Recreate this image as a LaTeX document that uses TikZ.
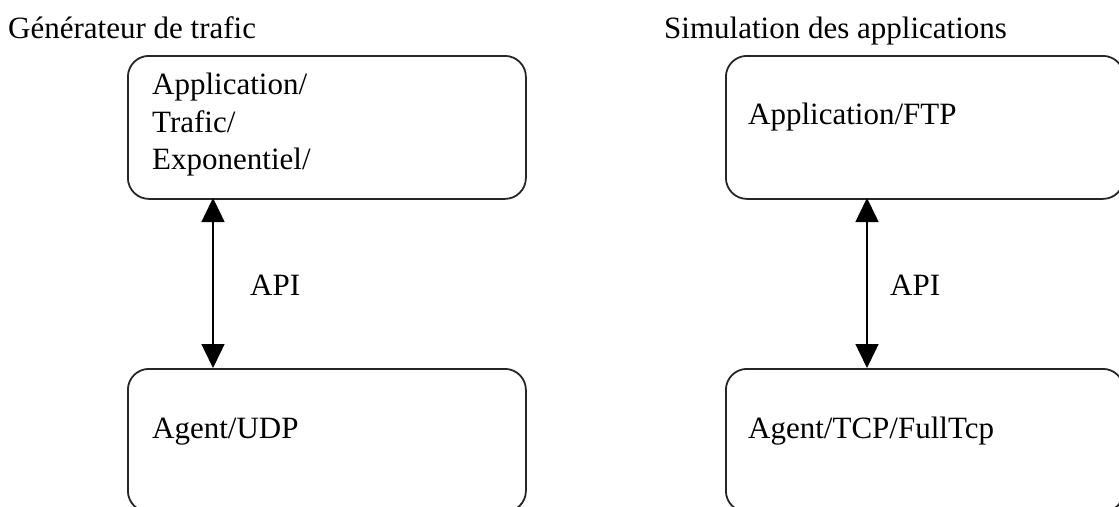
\documentclass[tikz,border=0pt]{standalone}
\usepackage{fontspec}
\setmainfont{Liberation Serif}
\usetikzlibrary{arrows.meta}
\begin{document}
\begin{tikzpicture}[x=1pt,y=-1pt,
  layerbox/.style={draw=black!85, line width=1.8pt, rounded corners=21pt,
    minimum width=398pt, minimum height=143pt, anchor=north west, inner sep=0pt},
  txt/.style={anchor=base west, inner sep=0pt,
    font=\fontsize{31}{37}\selectfont},
  apilink/.style={line width=1.5pt,
    {Triangle[width=23pt,length=24pt]}-{Triangle[width=23pt,length=24pt]}}]
  \useasboundingbox (0,0) rectangle (1119,506);
  \clip (0,0) rectangle (1119,506);

  % section titles
  \node[txt] (t1) at (8,38) {Générateur de trafic};
  \node[txt] (t2) at (664,38) {Simulation des applications};

  % traffic generator stack
  \node[layerbox] (gapp) at (127,55) {};
  \node[layerbox] (gagt) at (127,368) {};
  \node[txt] (g1) at (152,94) {Application/};
  \node[txt] (g2) at (152,132) {Trafic/};
  \node[txt] (g3) at (152,169) {Exponentiel/};
  \node[txt] (g4) at (152,438) {Agent/UDP};
  \coordinate (gtop) at (213,198);
  \coordinate (gbot) at (213,368);
  \draw[apilink] (gtop) -- (gbot);
  \node[txt] (gapi) at (250,295) {API};

  % application simulation stack
  \node[layerbox] (sapp) at (725,55) {};
  \node[layerbox] (sagt) at (725,368) {};
  \node[txt] (s1) at (748,124) {Application/FTP};
  \node[txt] (s2) at (748,438) {Agent/TCP/FullTcp};
  \coordinate (stop) at (867,198);
  \coordinate (sbot) at (867,368);
  \draw[apilink] (stop) -- (sbot);
  \node[txt] (sapi) at (890,295) {API};
\end{tikzpicture}
\end{document}
